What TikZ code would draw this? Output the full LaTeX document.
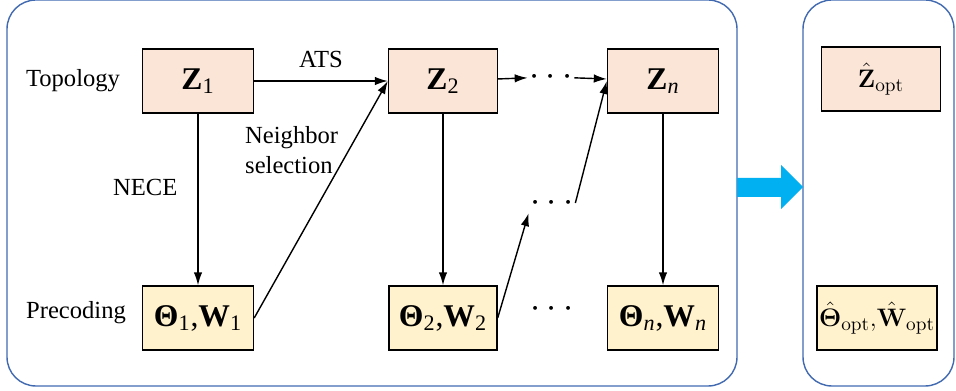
\documentclass[tikz,border=0pt]{standalone}
\usepackage[no-math]{fontspec}
\usepackage{bm}
\setmainfont{Liberation Serif}
\usetikzlibrary{arrows.meta}
\definecolor{topofill}{HTML}{FBE5D6}
\definecolor{precfill}{HTML}{FFF2CC}
\definecolor{panelblue}{HTML}{4169B0}
\definecolor{stepblue}{HTML}{00B0F0}
\begin{document}
\begin{tikzpicture}[
  x=0.02cm, y=-0.02cm,
  >={Latex[length=2.6mm,width=1.7mm]},
  box/.style={
    draw,
    line width=0.8pt,
    minimum width=2.22cm,
    minimum height=1.28cm,
    inner sep=0pt,
    font=\fontsize{18}{20}\selectfont
  },
  topo/.style={box, fill=topofill},
  prec/.style={box, fill=precfill},
  optfont/.style={font=\fontsize{15}{17}\selectfont},
  lbl/.style={font=\fontsize{14}{17}\selectfont},
  dots/.style={inner sep=1pt, font=\fontsize{21}{23}\selectfont},
  flow/.style={->, line width=0.8pt},
  panel/.style={draw=panelblue, line width=0.8pt, rounded corners=0.58cm}
]
\useasboundingbox (0,0) rectangle (956,391);
\draw[panel] (7,0) rectangle (737,386);
\draw[panel] (803,0) rectangle (954,386);

\node[lbl] (topology) at (73,81) {Topology};
\node[lbl] (precoding) at (76,313) {Precoding};

\node[topo] (Z1) at (198,81) {\textbf{Z}\textsubscript{1}};
\node[topo, minimum width=2.18cm] (Z2) at (443,81) {\textbf{Z}\textsubscript{2}};
\node[topo] (Zn) at (663,81) {\textbf{Z}\textsubscript{\textit{n}}};
\node[topo, optfont, minimum width=2.38cm] (Zopt) at (881,79) {$\hat{\mathbf{Z}}_{\mathrm{opt}}$};

\node[prec] (T1) at (198,318) {\textbf{Θ}\textsubscript{1},\textbf{W}\textsubscript{1}};
\node[prec, minimum width=2.16cm] (T2) at (443,318) {\textbf{Θ}\textsubscript{2},\textbf{W}\textsubscript{2}};
\node[prec] (Tn) at (663,318) {\textbf{Θ}\textsubscript{\textit{n}},\textbf{W}\textsubscript{\textit{n}}};
\node[prec, optfont, minimum width=2.4cm] (Topt) at (877,318) {$\hat{\bm{\Theta}}_{\mathrm{opt}}\mathbf{,}\hat{\mathbf{W}}_{\mathrm{opt}}$};

\node[dots] (D1) at (551,77) {$\cdots$};
\node[dots] (D2) at (552,203) {$\cdots$};
\node[dots] (D3) at (552,309) {$\cdots$};

\node[lbl, align=left, anchor=west] (nbr) at (239,150) {Neighbor\\selection};

\draw[flow] (Z1) -- node[lbl, above=4pt] {ATS} (Z2);
\draw[flow] (Z1) -- node[lbl, left=8pt, pos=0.43] {NECE} (T1);
\draw[flow] (T1.east) -- (Z2.west);
\draw[flow] (Z2) -- (D1);
\draw[flow] (D1) -- (Zn);
\draw[flow] (Z2) -- (T2);
\draw[flow] (T2.east) -- (D2.south west);
\draw[flow] (D2.east) -- (Zn.west);
\draw[flow] (Zn) -- (Tn);

\fill[stepblue] (737,178) -- (781,178) -- (781,165) -- (803,187) -- (781,209) -- (781,197) -- (737,197) -- cycle;
\end{tikzpicture}
\end{document}
